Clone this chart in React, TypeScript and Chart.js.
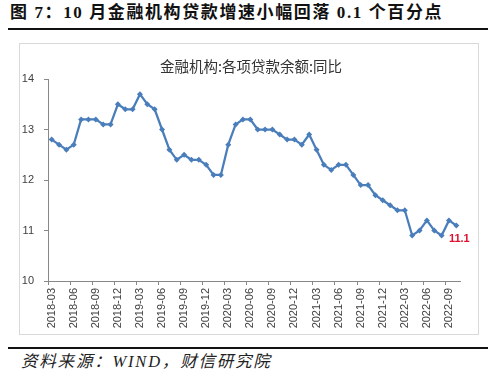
import React, { useEffect, useRef } from 'react';
import { Chart, registerables } from 'chart.js';
Chart.register(...registerables);

const months = [
  '2018-03','2018-04','2018-05','2018-06','2018-07','2018-08','2018-09','2018-10','2018-11','2018-12',
  '2019-01','2019-02','2019-03','2019-04','2019-05','2019-06','2019-07','2019-08','2019-09','2019-10','2019-11','2019-12',
  '2020-01','2020-02','2020-03','2020-04','2020-05','2020-06','2020-07','2020-08','2020-09','2020-10','2020-11','2020-12',
  '2021-01','2021-02','2021-03','2021-04','2021-05','2021-06','2021-07','2021-08','2021-09','2021-10','2021-11','2021-12',
  '2022-01','2022-02','2022-03','2022-04','2022-05','2022-06','2022-07','2022-08','2022-09','2022-10',
];

const loanGrowth = [
  12.8, 12.7, 12.6, 12.7, 13.2, 13.2, 13.2, 13.1, 13.1, 13.5,
  13.4, 13.4, 13.7, 13.5, 13.4, 13.0, 12.6, 12.4, 12.5, 12.4, 12.4, 12.3,
  12.1, 12.1, 12.7, 13.1, 13.2, 13.2, 13.0, 13.0, 13.0, 12.9, 12.8, 12.8,
  12.7, 12.9, 12.6, 12.3, 12.2, 12.3, 12.3, 12.1, 11.9, 11.9, 11.7, 11.6,
  11.5, 11.4, 11.4, 10.9, 11.0, 11.2, 11.0, 10.9, 11.2, 11.1,
];

const yMin = 10;
const yMax = 14;
const yStep = 1;
const lastValueLabel = '11.1';

const pageTitle = '图 7：10 月金融机构贷款增速小幅回落 0.1 个百分点';
const chartTitle = '金融机构:各项贷款余额:同比';
const sourceNote = '资料来源：WIND，财信研究院';

const lineColor = '#4a7ebb';
const axisColor = '#888888';

export default function App() {
  const canvasRef = useRef<HTMLCanvasElement | null>(null);

  useEffect(() => {
    if (!canvasRef.current) return;
    const lastLabelPlugin = {
      id: 'lastLabel',
      afterDatasetsDraw(chart: any) {
        const meta = chart.getDatasetMeta(0);
        const pt = meta.data[meta.data.length - 1];
        if (!pt) return;
        const ctx = chart.ctx;
        ctx.save();
        ctx.font = 'bold 11px "Liberation Sans", Arial, sans-serif';
        ctx.fillStyle = '#e0102f';
        ctx.textAlign = 'center';
        ctx.textBaseline = 'middle';
        ctx.fillText(lastValueLabel, pt.x + 3, pt.y + 14);
        ctx.restore();
      },
    };
    const chart = new Chart(canvasRef.current, {
      type: 'line',
      data: {
        labels: months,
        datasets: [
          {
            data: loanGrowth,
            borderColor: lineColor,
            backgroundColor: lineColor,
            borderWidth: 2.25,
            pointStyle: 'rectRot',
            pointRadius: 3,
            pointBorderWidth: 0,
            tension: 0,
          },
        ],
      },
      options: {
        animation: false,
        responsive: false,
        maintainAspectRatio: false,
        layout: { padding: { top: 35, right: 18, bottom: 0, left: 0 } },
        plugins: {
          legend: { display: false },
          tooltip: { enabled: false },
          title: { display: false },
        },
        scales: {
          x: {
            type: 'category',
            offset: true,
            grid: {
              offset: true,
              drawOnChartArea: false,
              drawTicks: true,
              tickLength: 4,
              tickColor: (c: any) => (c.index % 3 === 0 ? axisColor : 'rgba(0,0,0,0)'),
            },
            border: { color: axisColor, width: 1 },
            ticks: {
              autoSkip: false,
              minRotation: 90,
              maxRotation: 90,
              padding: 3,
              color: '#404040',
              font: { family: '"Liberation Sans", Arial, sans-serif', size: 11 },
              callback: (_v: any, i: number) => (i % 3 === 0 ? months[i] : ''),
            },
            afterFit: (s: any) => { s.height = 53; },
          },
          y: {
            min: yMin,
            max: yMax,
            grid: {
              drawOnChartArea: false,
              drawTicks: true,
              tickLength: 4,
              tickColor: axisColor,
            },
            border: { color: axisColor, width: 1 },
            ticks: {
              stepSize: yStep,
              padding: 10,
              color: '#404040',
              font: { family: '"Liberation Sans", Arial, sans-serif', size: 11 },
            },
            afterFit: (s: any) => { s.width = 28; },
          },
        },
      },
      plugins: [lastLabelPlugin],
    } as any);
    return () => chart.destroy();
  }, []);

  return (
    <div style={{ position: 'fixed', left: 0, top: 0, width: 500, height: 378, background: '#fff', overflow: 'hidden' }}>
      <div
        style={{
          position: 'absolute', left: 10, top: 2, whiteSpace: 'nowrap',
          fontFamily: '"Liberation Serif", "Noto Sans CJK SC", serif', fontWeight: 700, fontSize: 17, color: '#111',
          lineHeight: '22px', letterSpacing: 1.6,
        }}
      >
        {pageTitle}
      </div>
      <div style={{ position: 'absolute', left: 8, top: 28, width: 480, height: 2, background: '#111' }} />
      <div
        style={{
          position: 'absolute', left: 19, top: 43, width: 458, height: 290,
          border: '1px solid #d9d9d9', boxSizing: 'content-box',
        }}
      >
        <canvas ref={canvasRef} width={458} height={290} style={{ display: 'block', width: 458, height: 290 }} />
        <div
          style={{
            position: 'absolute', left: 0, width: 458, top: 12, textAlign: 'center', paddingLeft: 2,
            fontFamily: '"Noto Sans CJK SC", sans-serif', fontSize: 14.5, color: '#333', lineHeight: '20px',
          }}
        >
          {chartTitle}
        </div>
      </div>
      <div style={{ position: 'absolute', left: 8, top: 347, width: 480, height: 2, background: '#111' }} />
      <div
        style={{
          position: 'absolute', left: 21, top: 351, whiteSpace: 'nowrap',
          fontFamily: '"Liberation Serif", "Noto Sans CJK SC", serif', fontStyle: 'italic', fontSize: 16.5,
          color: '#222', lineHeight: '22px', letterSpacing: 1.8,
        }}
      >
        {sourceNote}
      </div>
    </div>
  );
}
